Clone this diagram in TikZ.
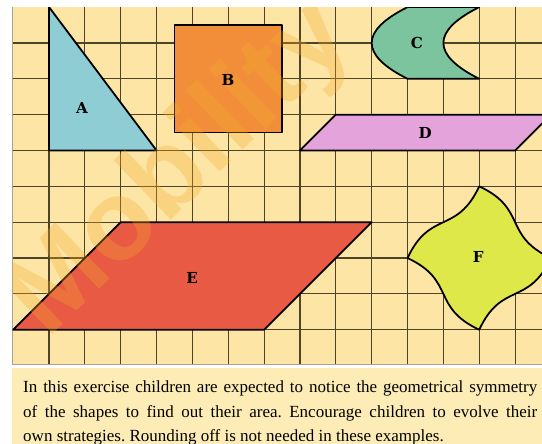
\documentclass[tikz,border=0pt]{standalone}
\usepackage{fontspec}
\setmainfont{Liberation Serif}
\newfontfamily\lblfont{DejaVu Serif}
\newfontfamily\wmfont{Liberation Sans}
\definecolor{gridbg}{RGB}{253,229,165}
\definecolor{capbg}{RGB}{253,236,182}
\definecolor{gridln}{RGB}{78,68,40}
\definecolor{colA}{RGB}{142,205,212}
\definecolor{colB}{RGB}{242,142,58}
\definecolor{colC}{RGB}{124,196,158}
\definecolor{colD}{RGB}{228,163,218}
\definecolor{colE}{RGB}{232,90,68}
\definecolor{colF}{RGB}{222,232,72}
\definecolor{wm}{RGB}{242,172,45}
\tikzset{
  gridline/.style={draw=gridln, line width=0.9pt},
  shapeline/.style={draw=black, line width=1.4pt, line join=round},
  lbl/.style={font=\lblfont\bfseries\fontsize{12}{14}\selectfont, inner sep=0pt},
  capline/.style={anchor=base west, inner sep=0pt, font=\fontsize{13.5}{15}\selectfont}
}
\begin{document}
\frenchspacing
\begin{tikzpicture}
\useasboundingbox (-0.368,0.198) rectangle (14.751,-12.187);
\fill[white] (-0.368,0.198) rectangle (14.751,-12.187);
\fill[gridbg] (-0.03,0) rectangle (14.751,-9.98);
\fill[capbg] (-0.03,-10.07) rectangle (14.751,-12.187);
\begin{scope}
\clip (-0.03,0) rectangle (14.751,-9.98);
% grid
\foreach \i in {1,...,14} \draw[gridline] (\i,0) -- (\i,-9.98);
\foreach \j in {1,...,9} \draw[gridline] (-0.03,-\j) -- (14.751,-\j);
\draw[draw=gridln!50, line width=0.5pt] (-0.02,0) -- (-0.02,-9.98);
\draw[draw=gridln!50, line width=0.6pt] (-0.03,-9.97) -- (14.751,-9.97);
% A
\filldraw[shapeline, fill=colA] (1,0) -- (1,-4) -- (4,-4) -- cycle;
% B
\filldraw[shapeline, fill=colB] (4.5,-0.5) rectangle (7.5,-3.5);
% C
\filldraw[shapeline, fill=colC] (11,0) -- (13,0)
  .. controls (11.667,-0.667) and (11.667,-1.333) .. (13,-2) -- (11,-2)
  .. controls (9.667,-1.333) and (9.667,-0.667) .. (11,0) -- cycle;
% D
\filldraw[shapeline, fill=colD] (8,-4) -- (14,-4) -- (15,-3) -- (9,-3) -- cycle;
% E
\filldraw[shapeline, fill=colE] (0,-9) -- (7,-9) -- (10,-6) -- (3,-6) -- cycle;
% F
\filldraw[shapeline, fill=colF] (13,-5)
  .. controls (12.37,-6.35) and (11.63,-5.65) .. (11,-7)
  .. controls (12.35,-7.63) and (11.65,-8.37) .. (13,-9)
  .. controls (13.63,-7.65) and (14.37,-8.35) .. (15,-7)
  .. controls (13.65,-6.37) and (14.35,-5.63) .. (13,-5) -- cycle;
% watermark
\node[name=wmark, rotate=44, text=wm, opacity=0.3, inner sep=0pt,
      font=\wmfont\bfseries\fontsize{90}{96}\selectfont] at (4.68,-4.54) {Mobility};
% labels
\node[lbl] (A) at (1.92,-2.81) {A};
\node[lbl] (B) at (5.99,-2.03) {B};
\node[lbl] (C) at (11.26,-1.0) {C};
\node[lbl] (D) at (11.49,-3.51) {D};
\node[lbl] (E) at (4.99,-7.56) {E};
\node[lbl] (F) at (12.97,-6.97) {F};
\end{scope}
% caption
\node[capline] (cap1) at (0.273,-10.745) {\makebox[14.34cm][s]{In this exercise children are expected to notice the geometrical symmetry}};
\node[capline] (cap2) at (0.273,-11.44) {\makebox[14.34cm][s]{of the shapes to find out their area. Encourage children to evolve their}};
\node[capline] (cap3) at (0.273,-12.12) {own strategies. Rounding off is not needed in these examples.};
\end{tikzpicture}
\end{document}
